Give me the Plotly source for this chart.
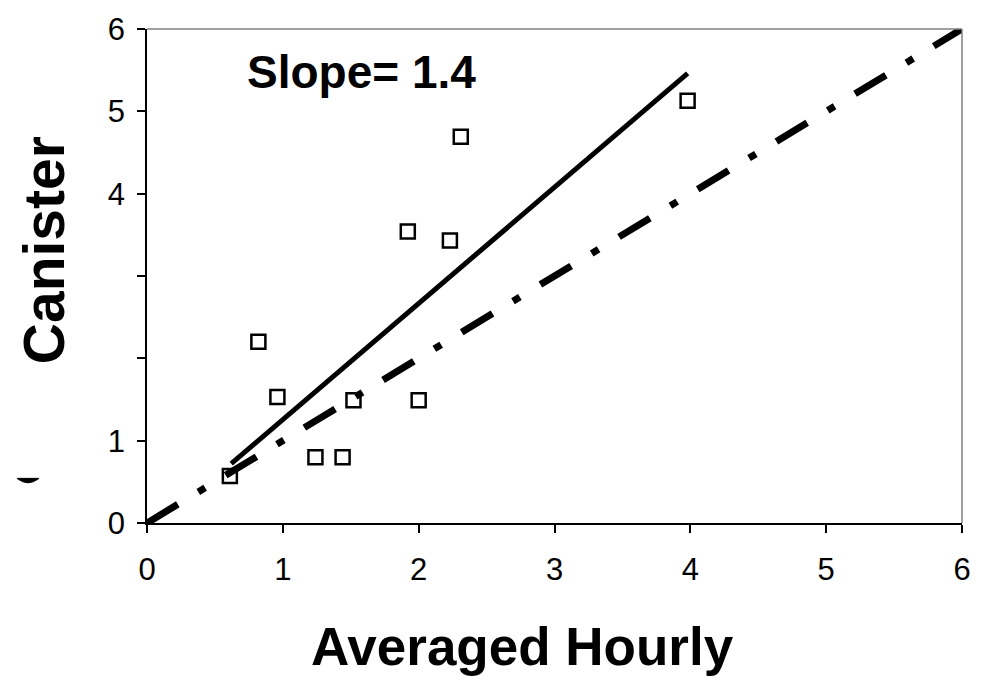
import plotly.graph_objects as go

# Data
hourly = [0.61, 0.82, 0.96, 1.24, 1.44, 1.52, 1.92, 2.00, 2.23, 2.31, 3.98]
canister = [0.57, 2.20, 1.53, 0.80, 0.80, 1.49, 3.54, 1.49, 3.43, 4.69, 5.13]
fit_x = [0.62, 3.98]
fit_y = [0.72, 5.46]
one_to_one = [0, 6]
x_ticks = [0, 1, 2, 3, 4, 5, 6]
x_ticktext = ["0", "1", "2", "3", "4", "5", "6"]
y_ticks = [0, 1, 2, 3, 4, 5, 6]
y_ticktext = ["0", "1", "", "", "4", "5", "6"]

W, H = 988, 680
L, R, T, B = 147, 26, 25, 157
pw, ph = W - L - R, H - T - B

def px(x):
    return (x - L) / pw

def py(y):
    return (H - B - y) / ph

fig = go.Figure()

fig.add_trace(go.Scatter(
    x=one_to_one, y=one_to_one, mode="lines",
    line=dict(color="black", width=7, dash="36px,24px,8px,24px"),
    hoverinfo="skip", showlegend=False))

fig.add_trace(go.Scatter(
    x=fit_x, y=fit_y, mode="lines",
    line=dict(color="black", width=5),
    showlegend=False))

fig.add_trace(go.Scatter(
    x=hourly, y=canister, mode="markers",
    marker=dict(symbol="square-open", size=14, color="black",
                line=dict(color="black", width=2.5)),
    showlegend=False, cliponaxis=False))

axis_common = dict(
    range=[0, 6], showgrid=False, zeroline=False,
    showline=True, linecolor="black", linewidth=1.5,
    ticks="outside", ticklen=8, tickwidth=1.5, tickcolor="black",
    tickfont=dict(family="Liberation Sans, Arial", size=31, color="black"),
)

fig.update_layout(
    width=W, height=H,
    margin=dict(l=L, r=R, t=T, b=B),
    paper_bgcolor="white", plot_bgcolor="white",
    xaxis=dict(**axis_common, tickvals=x_ticks, ticktext=x_ticktext,
               ticklabelstandoff=10),
    yaxis=dict(**axis_common, tickvals=y_ticks, ticktext=y_ticktext,
               ticklabelstandoff=6),
    shapes=[
        dict(type="line", xref="paper", yref="paper", x0=0, x1=1, y0=1, y1=1,
             line=dict(color="#808080", width=1.5)),
        dict(type="line", xref="paper", yref="paper", x0=1, x1=1, y0=0, y1=1,
             line=dict(color="#808080", width=1.5)),
        dict(type="path", xref="paper", yref="paper",
             path=(f"M {px(17)},{py(478)} Q {px(28)},{py(487)} {px(39)},{py(478)} Z"),
             fillcolor="black", line=dict(color="black", width=1)),
    ],
    annotations=[
        dict(text="<b>Slope= 1.4</b>", x=0.72, y=5.48, xref="x", yref="y",
             xanchor="left", yanchor="middle", showarrow=False,
             font=dict(family="Liberation Sans, Arial", size=46, color="black")),
        dict(text="<b>Averaged Hourly</b>", x=px(522), y=py(647),
             xref="paper", yref="paper", xanchor="center", yanchor="middle",
             showarrow=False,
             font=dict(family="Liberation Sans, Arial", size=53, color="black")),
        dict(text="<b>Canister</b>", x=px(44), y=py(248),
             xref="paper", yref="paper", xanchor="center", yanchor="middle",
             textangle=-90, showarrow=False,
             font=dict(family="Liberation Sans, Arial", size=57, color="black")),
    ],
)

fig.write_html("out.html")
